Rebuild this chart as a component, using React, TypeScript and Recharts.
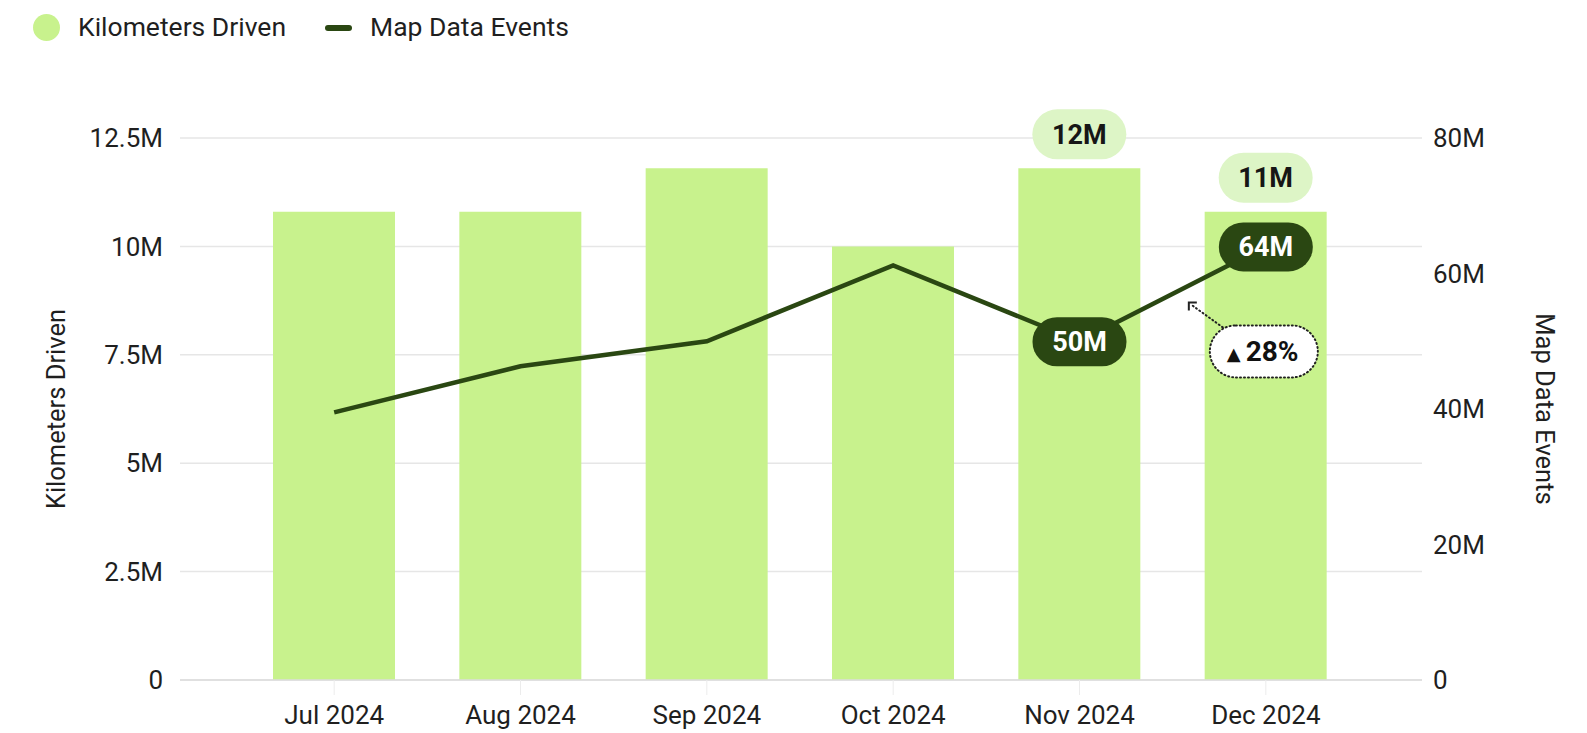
import { ComposedChart, Bar, Line, XAxis, YAxis, CartesianGrid, LabelList } from 'recharts';

// values in millions
const months = ['Jul 2024', 'Aug 2024', 'Sep 2024', 'Oct 2024', 'Nov 2024', 'Dec 2024'];
const kmDriven = [10.8, 10.8, 11.8, 10.0, 11.8, 10.8];
const mapEvents = [39.5, 46.3, 50.0, 61.2, 50.0, 64.0];
const kmLabels = ['', '', '', '', '12M', '11M'];
const eventLabels = ['', '', '', '', '50M', '64M'];
const changeLabels = ['', '', '', '', '', '28%'];
const leftTicks = [0, 2.5, 5, 7.5, 10, 12.5];
const rightTicks = [0, 20, 40, 60, 80];

const data = months.map((month, i) => ({
  month,
  km: kmDriven[i],
  events: mapEvents[i],
  kmLabel: kmLabels[i],
  eventLabel: eventLabels[i],
  change: changeLabels[i],
}));

const FONT = 'Roboto, "DejaVu Sans", sans-serif';
const BAR = '#c8f28d';
const LINE = '#2a4712';
const TEXT = '#1f1f1f';

const fmt = (v: number) => (v === 0 ? '0' : `${v}M`);

function BarPill(props: any) {
  const { x, y, width, value } = props;
  if (!value) return null;
  const cx = x + width / 2;
  const cy = y - 34;
  return (
    <g>
      <rect x={cx - 47} y={cy - 25} width={94} height={50} rx={25} fill="#ddf5c6" />
      <text x={cx} y={cy + 9.5} textAnchor="middle" fontFamily={FONT} fontWeight={700} fontSize={27} fill="#161616">
        {value}
      </text>
    </g>
  );
}

function LinePill(props: any) {
  const { x, y, value } = props;
  if (!value) return null;
  return (
    <g>
      <rect x={x - 47} y={y - 24} width={94} height={49} rx={24.5} fill={LINE} />
      <text x={x} y={y + 10} textAnchor="middle" fontFamily={FONT} fontWeight={700} fontSize={27} fill="#fff">
        {value}
      </text>
    </g>
  );
}

function ChangeNote(props: any) {
  const { x, y, value } = props;
  if (!value) return null;
  const cx = x - 2;
  const cy = y + 105;
  const tipX = x - 77;
  const tipY = y + 56;
  return (
    <g>
      <line x1={x - 43} y1={y + 81} x2={tipX + 2} y2={tipY + 2} stroke="#222" strokeWidth={2} strokeDasharray="1 3" strokeLinecap="round" />
      <polyline points={`${tipX + 8},${tipY} ${tipX},${tipY} ${tipX},${tipY + 8}`} fill="none" stroke="#222" strokeWidth={2} />
      <rect x={cx - 54} y={cy - 26} width={108} height={52} rx={26} fill="#fff" stroke="#222" strokeWidth={2} strokeDasharray="1 3" strokeLinecap="round" />
      <text x={cx - 37} y={cy + 10} textAnchor="start" fontFamily={FONT} fontWeight={700} fontSize={28} fill="#111">
        <tspan fontSize={18} dy={-1} fontFamily='"DejaVu Sans", sans-serif'>▲</tspan>
        <tspan dy={1} dx={5}>{value}</tspan>
      </text>
    </g>
  );
}

export default function App() {
  return (
    <div style={{ position: 'absolute', left: 0, top: 0, width: 1587, height: 733, background: '#fff', fontFamily: FONT }}>
      <div style={{ position: 'absolute', left: 33, top: 14, width: 27, height: 27, borderRadius: '50%', background: BAR }} />
      <span style={{ position: 'absolute', left: 78, top: 11, fontSize: 26.5, lineHeight: '32px', color: TEXT }}>Kilometers Driven</span>
      <div style={{ position: 'absolute', left: 325, top: 25, width: 27, height: 6, borderRadius: 3, background: LINE }} />
      <span style={{ position: 'absolute', left: 370, top: 11, fontSize: 26.5, lineHeight: '32px', color: TEXT }}>Map Data Events</span>

      <ComposedChart width={1587} height={733} data={data} margin={{ top: 138, right: 0, bottom: 0, left: 0 }}>
        <CartesianGrid vertical={false} stroke="#e6e6e6" strokeWidth={1.5} yAxisId="left" />
        <XAxis
          dataKey="month"
          height={53}
          padding={{ left: 61, right: 63 }}
          axisLine={{ stroke: '#dcdcdc', strokeWidth: 1.5 }}
          tickLine={{ stroke: '#ececec' }}
          tickSize={15}
          tickMargin={11}
          tick={{ fill: TEXT, fontSize: 26, fontFamily: FONT }}
        />
        <YAxis
          yAxisId="left"
          width={180}
          domain={[0, 12.5]}
          ticks={leftTicks}
          tickFormatter={fmt}
          axisLine={false}
          tickLine={false}
          tickSize={0}
          tickMargin={17}
          tick={{ fill: TEXT, fontSize: 26, fontFamily: FONT }}
          label={{ value: 'Kilometers Driven', angle: -90, position: 'insideLeft', offset: 56, style: { textAnchor: 'middle', fill: TEXT, fontSize: 25.5, fontFamily: FONT } }}
        />
        <YAxis
          yAxisId="right"
          orientation="right"
          width={165}
          domain={[0, 80]}
          ticks={rightTicks}
          tickFormatter={fmt}
          axisLine={false}
          tickLine={false}
          tickSize={0}
          tickMargin={11}
          tick={{ fill: TEXT, fontSize: 26, fontFamily: FONT }}
          label={{ value: 'Map Data Events', angle: 90, position: 'insideRight', offset: 42, style: { textAnchor: 'middle', fill: TEXT, fontSize: 25.5, fontFamily: FONT } }}
        />
        <Bar yAxisId="left" dataKey="km" fill={BAR} barSize={122} isAnimationActive={false}>
          <LabelList dataKey="kmLabel" content={BarPill} />
        </Bar>
        <Line
          yAxisId="right"
          dataKey="events"
          type="linear"
          stroke={LINE}
          strokeWidth={4.5}
          dot={false}
          activeDot={false}
          isAnimationActive={false}
        >
          <LabelList dataKey="change" content={ChangeNote} />
          <LabelList dataKey="eventLabel" content={LinePill} />
        </Line>
      </ComposedChart>
    </div>
  );
}
